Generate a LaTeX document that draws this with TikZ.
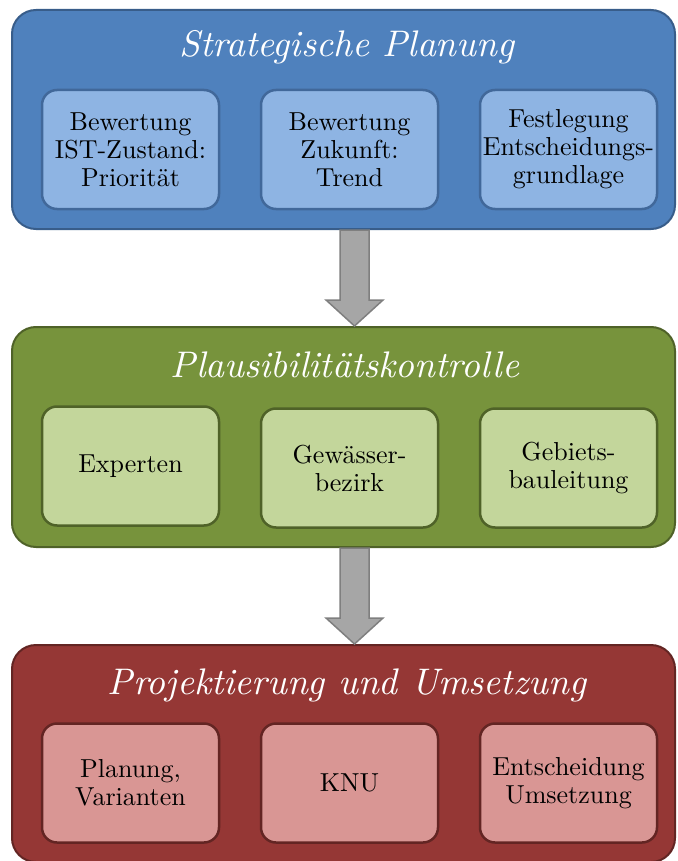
\documentclass[tikz,border=0pt]{standalone}
\usepackage{fontspec}
\setmainfont{lmroman10}[Extension=.otf, UprightFont=*-regular, ItalicFont=*-italic, BoldFont=*-bold]
\usetikzlibrary{calc}
\definecolor{blueO}{HTML}{4F81BD}
\definecolor{blueOd}{HTML}{385D8A}
\definecolor{blueI}{HTML}{8EB4E3}
\definecolor{blueId}{HTML}{41689A}
\definecolor{greenO}{HTML}{77933C}
\definecolor{greenOd}{HTML}{4F6228}
\definecolor{greenI}{HTML}{C3D69B}
\definecolor{greenId}{HTML}{4F6228}
\definecolor{redO}{HTML}{953735}
\definecolor{redOd}{HTML}{632523}
\definecolor{redI}{HTML}{D99694}
\definecolor{redId}{HTML}{632523}
\definecolor{arrowfill}{HTML}{A6A6A6}
\definecolor{arrowdraw}{HTML}{7F7F7F}
\begin{document}
\begin{tikzpicture}[x=1pt,y=-1pt,
  outerbox/.style={rectangle, rounded corners=24pt, minimum width=663pt, line width=2pt, inner sep=0pt},
  innerbox/.style={rectangle, rounded corners=15pt, minimum width=177pt, minimum height=119pt, line width=2.5pt, align=center, font=\fontsize{26}{28}\selectfont, text=black, inner sep=0pt},
  titletext/.style={font=\fontsize{37}{40}\selectfont\itshape, text=white, inner sep=0pt},
  bigarrow/.style={fill=arrowfill, draw=arrowdraw, line width=1.5pt, line join=miter}]
\useasboundingbox (0,0) rectangle (677,861);

% Strategische Planung
\node[outerbox, minimum height=219pt, fill=blueO, draw=blueOd] (sp) at (343.5,119.5) {};
\node[titletext] (spT) at (347,47) {Strategische Planung};
\node[innerbox, fill=blueI, draw=blueId] (sp1) at (130.5,149.5) {Bewertung\\IST-Zustand:\\Priorität};
\node[innerbox, fill=blueI, draw=blueId] (sp2) at (349.5,149.5) {Bewertung\\Zukunft:\\Trend};
\node[innerbox, fill=blueI, draw=blueId] (sp3) at (568.5,149.5) {Festlegung\\Entscheidungs-\\grundlage};

% Plausibilitaetskontrolle
\node[outerbox, minimum height=220pt, fill=greenO, draw=greenOd] (pk) at (343.5,437) {};
\node[titletext] (pkT) at (345,365) {Plausibilitätskontrolle};
\node[innerbox, fill=greenI, draw=greenId] (pk1) at (130.5,466) {Experten};
\node[innerbox, fill=greenI, draw=greenId] (pk2) at (349.5,468) {Gewässer-\\bezirk};
\node[innerbox, fill=greenI, draw=greenId] (pk3) at (568.5,468) {Gebiets-\\bauleitung};

% Projektierung und Umsetzung
\node[outerbox, minimum height=217pt, fill=redO, draw=redOd] (pu) at (343.5,753.5) {};
\node[titletext] (puT) at (347,685) {Projektierung und Umsetzung};
\node[innerbox, fill=redI, draw=redId] (pu1) at (130.5,783) {Planung,\\Varianten};
\node[innerbox, fill=redI, draw=redId] (pu2) at (349.5,783) {KNU};
\node[innerbox, fill=redI, draw=redId] (pu3) at (568.5,783) {Entscheidung\\Umsetzung};

% arrows
\draw[bigarrow] let \p1=(sp.south), \p2=(pk.north) in
  (\x1+11pt-14.5pt,\y1) -- (\x1+11pt-14.5pt,\y2+26pt) -- (\x1+11pt-28.5pt,\y2+26pt)
  -- (\x1+11pt,\y2) -- (\x1+11pt+28.5pt,\y2+26pt) -- (\x1+11pt+14.5pt,\y2+26pt)
  -- (\x1+11pt+14.5pt,\y1) -- cycle;
\draw[bigarrow] let \p1=(pk.south), \p2=(pu.north) in
  (\x1+11pt-14.5pt,\y1) -- (\x1+11pt-14.5pt,\y2+26pt) -- (\x1+11pt-28.5pt,\y2+26pt)
  -- (\x1+11pt,\y2) -- (\x1+11pt+28.5pt,\y2+26pt) -- (\x1+11pt+14.5pt,\y2+26pt)
  -- (\x1+11pt+14.5pt,\y1) -- cycle;
\end{tikzpicture}
\end{document}
